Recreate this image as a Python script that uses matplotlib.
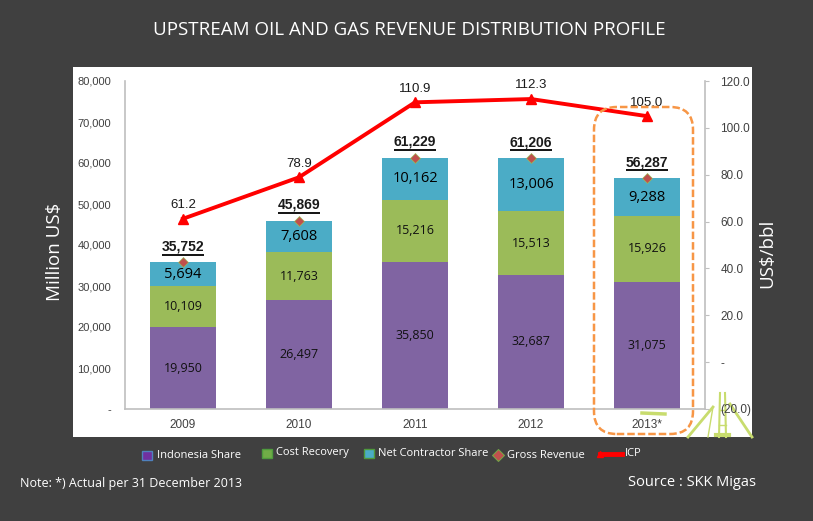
import matplotlib
matplotlib.use('Agg')
import matplotlib.pyplot as plt
from matplotlib.patches import Rectangle, FancyBboxPatch
from matplotlib.lines import Line2D

years = ['2009', '2010', '2011', '2012', '2013*']
indonesia_share = [19950, 26497, 35850, 32687, 31075]
cost_recovery = [10109, 11763, 15216, 15513, 15926]
net_contractor = [5694, 7608, 10162, 13006, 9288]
gross_revenue = [35752, 45869, 61229, 61206, 56287]
icp = [61.2, 78.9, 110.9, 112.3, 105.0]

left_ticks = [0, 10000, 20000, 30000, 40000, 50000, 60000, 70000, 80000]
left_labels = ['-', '10,000', '20,000', '30,000', '40,000', '50,000', '60,000', '70,000', '80,000']
right_ticks = [-20, 0, 20, 40, 60, 80, 100, 120]
right_labels = ['(20.0)', '-', '20.0', '40.0', '60.0', '80.0', '100.0', '120.0']

W, H = 813, 521
BG = '#404040'
plt.rcParams['font.family'] = ['Open Sans', 'DejaVu Sans']


def fx(x):
    return x / W


def fy(y):
    return 1 - y / H


fig = plt.figure(figsize=(W / 100, H / 100), dpi=100, facecolor=BG)

# white panel behind the chart
fig.add_artist(Rectangle((fx(73), fy(437)), 679 / W, 370 / H, transform=fig.transFigure,
                         facecolor='white', edgecolor='none', zorder=-5))

ax = fig.add_axes([fx(125), fy(409), 580 / W, 328 / H])
ax.patch.set_alpha(0)
ax2 = ax.twinx()
ax.set_zorder(1)
ax2.set_zorder(2)
ax2.patch.set_alpha(0)

x = list(range(len(years)))
bottom2 = [a + b for a, b in zip(indonesia_share, cost_recovery)]
bar_w = 0.57
ax.bar(x, indonesia_share, bar_w, color='#8064A2')
ax.bar(x, cost_recovery, bar_w, bottom=indonesia_share, color='#9BBB59')
ax.bar(x, net_contractor, bar_w, bottom=bottom2, color='#4BACC6')
ax.plot(x, gross_revenue, ls='none', marker='D', ms=5.5, color='#C0504D',
        markeredgecolor='#9BBB59', markeredgewidth=0.5)

for i in x:
    ax.text(i, indonesia_share[i] / 2, f'{indonesia_share[i]:,}', ha='center', va='center',
            fontsize=9, color='#111111')
    ax.text(i, indonesia_share[i] + cost_recovery[i] / 2, f'{cost_recovery[i]:,}', ha='center',
            va='center', fontsize=9, color='#111111')
    ax.text(i, bottom2[i] + net_contractor[i] / 2, f'{net_contractor[i]:,}', ha='center',
            va='center', fontsize=10.5, color='black')
    ax.annotate(f'{gross_revenue[i]:,}', (i, gross_revenue[i]), xytext=(0, 6.5),
                textcoords='offset points', ha='center', va='bottom', fontsize=10,
                fontweight='bold', color='#1a1a1a', family='Liberation Sans')
    ax.plot([i - 0.185, i + 0.185], [gross_revenue[i] + 1900] * 2, color='black', lw=1.3,
            solid_capstyle='butt')

ax.set_xlim(-0.5, 4.5)
ax.set_ylim(0, 80000)
ax.set_xticks(x)
ax.set_xticklabels(years)
ax.set_yticks(left_ticks)
ax.set_yticklabels(left_labels)
ax.tick_params(axis='x', length=0, labelsize=8.5, labelcolor='#404040', pad=7)
ax.tick_params(axis='y', length=0, labelsize=8, labelcolor='#404040', pad=10)
for lab in ax.get_xticklabels() + ax.get_yticklabels():
    lab.set_family('Liberation Sans')
for side in ['top', 'right']:
    ax.spines[side].set_visible(False)
for side in ['left', 'bottom']:
    ax.spines[side].set_color('#BFBFBF')
    ax.spines[side].set_linewidth(1.2)

ax2.plot(x, icp, color='#FF0000', lw=2.8, marker='^', ms=6.5)
for i in x:
    ax2.annotate(f'{icp[i]:.1f}', (i, icp[i]), xytext=(0, 5.5), textcoords='offset points',
                 ha='center', va='bottom', fontsize=9.5, color='#1a1a1a', family='Liberation Sans')
ax2.set_ylim(-20, 120)
ax2.set_yticks(right_ticks)
ax2.set_yticklabels(right_labels)
ax2.tick_params(axis='y', length=3, color='#BFBFBF', labelsize=8.5, labelcolor='#404040', pad=8)
for lab in ax2.get_yticklabels():
    lab.set_family('Liberation Sans')
for side in ['top', 'left', 'bottom']:
    ax2.spines[side].set_visible(False)
ax2.spines['right'].set_color('#BFBFBF')
ax2.spines['right'].set_linewidth(1.2)

# dashed highlight round 2013
fig.add_artist(FancyBboxPatch((fx(594), fy(434)), 99 / W, 327 / H, transform=fig.transFigure,
                              boxstyle='round,pad=0,rounding_size=0.028', mutation_aspect=W / H,
                              facecolor='none', edgecolor='#F79646', lw=1.8, ls=(0, (3, 1.2)), zorder=5))

# crane and helicopter watermark in the corner
crane = '#C8DC6E'
for xs, ys, w in [([720, 719], [393, 437], 1.5), ([725, 726], [393, 437], 1.5),
                  ([720, 725], [410, 410], 1), ([719, 726], [425, 425], 1),
                  ([713, 688], [407, 437], 2), ([708, 713], [437, 407], 1),
                  ([730, 752], [404, 437], 2), ([716, 729], [435, 435], 3),
                  ([642, 665], [413, 414], 2.5)]:
    fig.add_artist(Line2D([fx(v) for v in xs], [fy(v) for v in ys], color=crane, lw=w, zorder=-1))

fig.text(fx(409), fy(30), 'UPSTREAM OIL AND GAS REVENUE DISTRIBUTION PROFILE', ha='center',
         va='center', fontsize=13.5, color='white')
fig.text(fx(55), fy(252), 'Million US$', rotation=90, ha='center', va='center', fontsize=13.5,
         color='white')
fig.text(fx(767), fy(253), 'US$/bbl', rotation=90, ha='center', va='center', fontsize=13.5,
         color='white')
fig.text(fx(20), fy(483), 'Note: *) Actual per 31 December 2013', ha='left', va='center',
         fontsize=9, color='white')
fig.text(fx(628), fy(482), 'Source : SKK Migas', ha='left', va='center', fontsize=10.5, color='white')

# legend, items are not evenly spaced in the original
for lx, ly, face, edge, name, tx in [(142, 455, '#7030A0', '#4F81BD', 'Indonesia Share', 157),
                                     (262, 453, '#70AD47', '#4F9A3D', 'Cost Recovery', 276),
                                     (364, 453, '#4BACC6', '#4F9A3D', 'Net Contractor Share', 378)]:
    fig.add_artist(Rectangle((fx(lx), fy(ly + 5)), 10 / W, 9 / H, transform=fig.transFigure,
                             facecolor=face, edgecolor=edge, lw=1))
    fig.text(fx(tx), fy(ly), name, ha='left', va='center', fontsize=8, color='white')
fig.add_artist(Line2D([fx(498)], [fy(455)], marker='D', ms=6, color='#C0504D',
                      markeredgecolor='#70AD47', markeredgewidth=0.7))
fig.text(fx(507), fy(455), 'Gross Revenue', ha='left', va='center', fontsize=8, color='white')
fig.add_artist(Line2D([fx(600), fx(622)], [fy(454), fy(454)], color='#FF0000', lw=3.5,
                      marker='^', ms=5, markevery=[0]))
fig.text(fx(625), fy(454), 'ICP', ha='left', va='center', fontsize=8, color='white')

fig.savefig('out.png', dpi=100, facecolor=fig.get_facecolor())
